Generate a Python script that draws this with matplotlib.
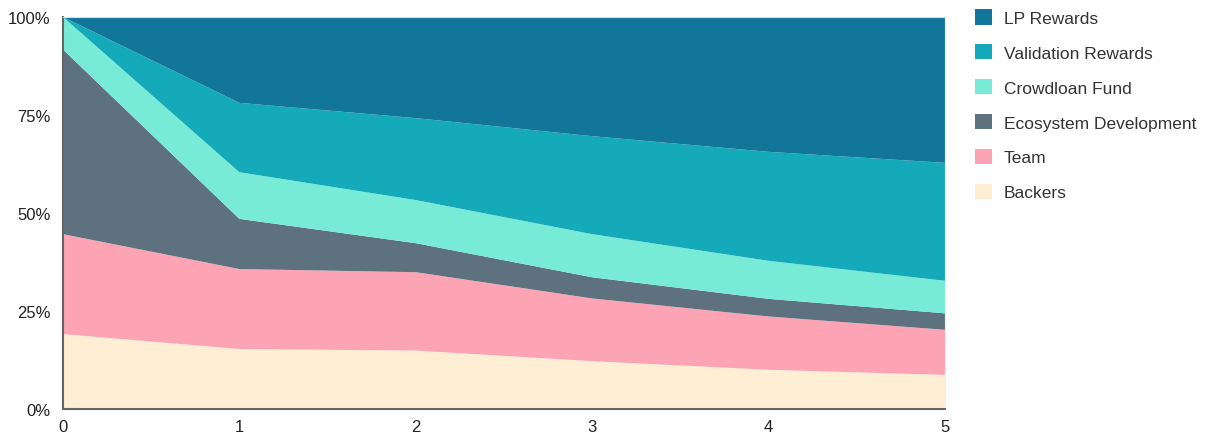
import numpy as np
import matplotlib as mpl
mpl.use('Agg')
import matplotlib.pyplot as plt
from matplotlib.patches import Patch
from matplotlib.ticker import FuncFormatter

plt.rcParams['font.family'] = ['Liberation Sans', 'DejaVu Sans']

years = [0, 1, 2, 3, 4, 5]
backers = [19.1, 15.3, 14.9, 12.2, 10.0, 8.7]
team = [25.5, 20.4, 20.0, 16.0, 13.6, 11.5]
ecosystem = [47.1, 12.8, 7.4, 5.4, 4.5, 4.2]
crowdloan = [8.3, 11.9, 11.0, 11.0, 9.7, 8.3]
validation = [0.0, 17.7, 20.9, 25.0, 27.8, 30.1]
lp = [0.0, 21.9, 25.8, 30.4, 34.4, 37.2]

names = ["Backers", "Team", "Ecosystem Development", "Crowdloan Fund",
         "Validation Rewards", "LP Rewards"]
colors = ["#FEEFD4", "#FCA4B4", "#5E717E", "#77EBD6", "#15AAB9", "#11769A"]

vals = np.array([backers, team, ecosystem, crowdloan, validation, lp])
vals = vals / vals.sum(axis=0) * 100

fig = plt.figure(figsize=(12.14, 4.35), dpi=100)
ax = fig.add_axes([0.0519, 0.0575, 0.7265, 0.9011])
ax.stackplot(years, vals, colors=colors, linewidth=0)

ax.set_xlim(0, 5)
ax.set_ylim(0, 100)
ax.set_yticks([0, 25, 50, 75, 100])
ax.yaxis.set_major_formatter(FuncFormatter(lambda v, p: f"{int(v)}%"))
ax.set_xticks(years)
ax.tick_params(length=0, labelsize=12, colors="#222222")
ax.tick_params(axis='y', pad=9)
ax.tick_params(axis='x', pad=7)

for s in ["left", "bottom"]:
    ax.spines[s].set_color("#666666")
    ax.spines[s].set_linewidth(1.5)
ax.spines["top"].set_color("#dddddd")
ax.spines["right"].set_color("#eeeeee")

handles = [Patch(facecolor=c, edgecolor="none") for c in colors[::-1]]
fig.legend(handles, names[::-1], loc="upper left", bbox_to_anchor=(0.8031, 0.977),
           frameon=False, fontsize=12.5, handlelength=1.0, handleheight=1.0,
           labelspacing=1.05, handletextpad=0.65, borderpad=0, borderaxespad=0,
           labelcolor="#333333")

plt.savefig("out.png")
